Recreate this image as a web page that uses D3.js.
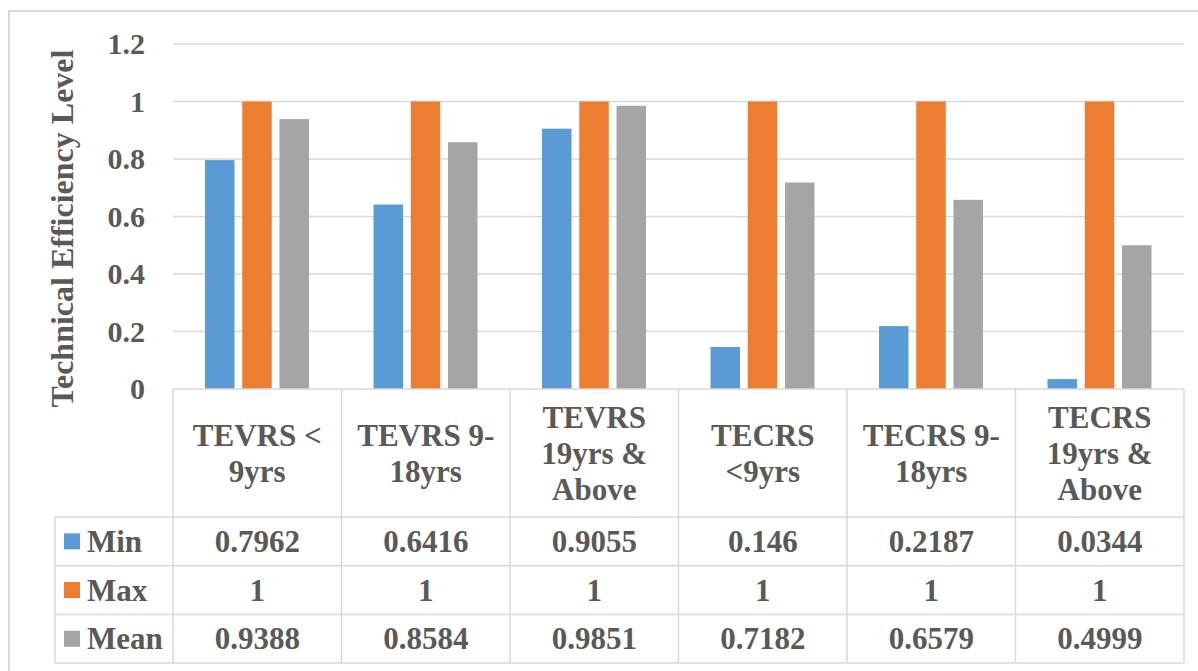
<!DOCTYPE html>
<html>
<head>
<meta charset="utf-8">
<script src="https://cdn.jsdelivr.net/npm/d3@7"></script>
<style>
  body { margin: 0; background: #ffffff; }
</style>
</head>
<body>
<div class="chart"></div>
<script>
// Data.
const categories = [
  ["TEVRS <", "9yrs"],
  ["TEVRS 9-", "18yrs"],
  ["TEVRS", "19yrs &", "Above"],
  ["TECRS", "<9yrs"],
  ["TECRS 9-", "18yrs"],
  ["TECRS", "19yrs &", "Above"]
];
const seriesNames = ["Min", "Max", "Mean"];
const minValues = [0.7962, 0.6416, 0.9055, 0.146, 0.2187, 0.0344];
const maxValues = [1, 1, 1, 1, 1, 1];
const meanValues = [0.9388, 0.8584, 0.9851, 0.7182, 0.6579, 0.4999];
const yTicks = [0, 0.2, 0.4, 0.6, 0.8, 1, 1.2];
const yTickLabels = ["0", "0.2", "0.4", "0.6", "0.8", "1", "1.2"];

const series = [minValues, maxValues, meanValues];
const colors = ["#5B9BD5", "#ED7D31", "#A5A5A5"];
const lineColor = "#D9D9D9";
const fontFamily = "'Liberation Serif', 'Times New Roman', Tinos, serif";

const width = 1198, height = 671;
const plot = { left: 173, right: 1184, top: 44, bottom: 389 };
// Table rows below the plot.
const headerBottom = 517;
const rowHeight = 48.7;
const legendLeft = 55;

const svg = d3.select(".chart")
  .append("svg")
  .attr("width", width)
  .attr("height", height)
  .attr("font-family", fontFamily)
  .attr("font-weight", "bold")
  .attr("fill", "#595959");

// Outer chart border.
svg.append("rect")
  .attr("x", 9).attr("y", 11)
  .attr("width", 1200).attr("height", 700)
  .attr("fill", "none")
  .attr("stroke", lineColor)
  .attr("stroke-width", 2);

const xScale = d3.scaleBand()
  .domain(d3.range(categories.length))
  .range([plot.left, plot.right]);
const yScale = d3.scaleLinear()
  .domain([0, 1.2])
  .range([plot.bottom, plot.top]);
const bw = xScale.bandwidth();
const xInner = d3.scaleBand()
  .domain(d3.range(series.length))
  .range([bw * 0.19, bw * 0.807])
  .paddingInner(0.208);

// Gridlines.
svg.append("g")
  .selectAll("line")
  .data(yTicks.slice(1))
  .join("line")
  .attr("x1", plot.left).attr("x2", plot.right)
  .attr("y1", d => yScale(d)).attr("y2", d => yScale(d))
  .attr("stroke", lineColor)
  .attr("stroke-width", 1.5);

// Y tick labels.
svg.append("g")
  .selectAll("text")
  .data(yTicks)
  .join("text")
  .attr("x", 145)
  .attr("y", d => yScale(d))
  .attr("dy", "0.34em")
  .attr("text-anchor", "end")
  .attr("font-size", 30)
  .text((d, i) => yTickLabels[i]);

// Axis title.
svg.append("text")
  .attr("transform", `translate(73,${(50 + 407) / 2}) rotate(-90)`)
  .attr("text-anchor", "middle")
  .attr("font-size", 32)
  .text("Technical Efficiency Level");

// Bars.
series.forEach((values, s) => {
  svg.append("g")
    .selectAll("rect")
    .data(values)
    .join("rect")
    .attr("x", (d, i) => xScale(i) + xInner(s))
    .attr("width", xInner.bandwidth())
    .attr("y", d => yScale(d))
    .attr("height", d => yScale(0) - yScale(d))
    .attr("fill", colors[s]);
});

// Data table grid.
const table = svg.append("g")
  .attr("stroke", lineColor)
  .attr("stroke-width", 1.5);
const rowYs = d3.range(series.length + 1).map(r => headerBottom + r * rowHeight);
table.append("line")
  .attr("x1", plot.left).attr("x2", plot.right)
  .attr("y1", plot.bottom).attr("y2", plot.bottom);
table.selectAll(".hrow")
  .data(rowYs)
  .join("line")
  .attr("x1", legendLeft).attr("x2", plot.right)
  .attr("y1", d => d).attr("y2", d => d);
table.selectAll(".vcol")
  .data(d3.range(categories.length + 1))
  .join("line")
  .attr("x1", i => plot.left + i * bw).attr("x2", i => plot.left + i * bw)
  .attr("y1", plot.bottom).attr("y2", rowYs[rowYs.length - 1]);
table.append("line")
  .attr("x1", legendLeft).attr("x2", legendLeft)
  .attr("y1", headerBottom).attr("y2", rowYs[rowYs.length - 1]);

// Category header labels.
const headerMid = (plot.bottom + headerBottom) / 2;
const lineGap = 36;
categories.forEach((lines, i) => {
  const t = svg.append("text")
    .attr("text-anchor", "middle")
    .attr("font-size", 31);
  lines.forEach((ln, k) => {
    t.append("tspan")
      .attr("x", xScale(i) + bw / 2)
      .attr("y", headerMid + 11 + (k - (lines.length - 1) / 2) * lineGap)
      .text(ln);
  });
});

// Legend column and values.
series.forEach((values, s) => {
  const mid = rowYs[s] + rowHeight / 2;
  svg.append("rect")
    .attr("x", 64).attr("y", mid - 8)
    .attr("width", 16).attr("height", 16)
    .attr("fill", colors[s]);
  svg.append("text")
    .attr("x", 87).attr("y", mid)
    .attr("dy", "0.34em")
    .attr("font-size", 31)
    .text(seriesNames[s]);
  svg.append("g")
    .selectAll("text")
    .data(values)
    .join("text")
    .attr("x", (d, i) => xScale(i) + bw / 2)
    .attr("y", mid)
    .attr("dy", "0.34em")
    .attr("text-anchor", "middle")
    .attr("font-size", 31)
    .text(d => String(d));
});
</script>
</body>
</html>
